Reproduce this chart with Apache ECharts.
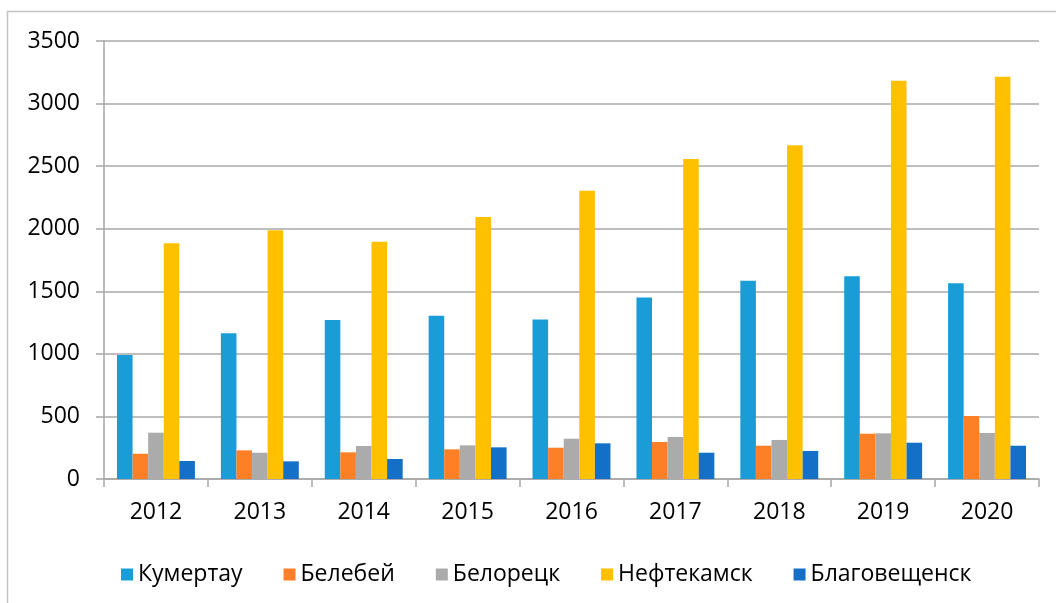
<!DOCTYPE html>
<html>
<head>
<meta charset="utf-8">
<script src="https://cdn.jsdelivr.net/npm/echarts@6/dist/echarts.min.js"></script>
<style>
    html, body { margin: 0; padding: 0; background: #fff; }
    #chart { width: 1056px; height: 603px; }
</style>
</head>
<body>
<div id="chart"></div>
<script>
// годы и значения по городам
var years = ['2012', '2013', '2014', '2015', '2016', '2017', '2018', '2019', '2020'];
var kumertau = [990, 1165, 1270, 1305, 1275, 1450, 1585, 1620, 1565];
var belebey = [202, 229, 213, 237, 250, 296, 266, 362, 503];
var beloretsk = [370, 210, 264, 269, 322, 336, 312, 365, 368];
var neftekamsk = [1883, 1987, 1896, 2093, 2304, 2557, 2666, 3183, 3215];
var blagoveshchensk = [144, 141, 160, 253, 285, 210, 224, 290, 266];
var yTicks = [0, 500, 1000, 1500, 2000, 2500, 3000, 3500];

var seriesNames = ['Кумертау', 'Белебей', 'Белорецк', 'Нефтекамск', 'Благовещенск'];
var seriesData = [kumertau, belebey, beloretsk, neftekamsk, blagoveshchensk];
var colors = ['#1a9dd7', '#fd7f26', '#ababab', '#ffc000', '#146fc6'];

var font = '"Open Sans", sans-serif';
var myChart = echarts.init(document.getElementById('chart'));

myChart.setOption({
    animation: false,
    color: colors,
    graphic: [{
        type: 'rect',
        shape: { x: 7.5, y: 11.5, width: 1200, height: 800 },
        style: { fill: 'none', stroke: '#c4c4c4', lineWidth: 1.5 },
        silent: true
    }],
    grid: { left: 104, right: 17, top: 41, bottom: 124 },
    legend: {
        left: 116,
        top: 558,
        itemWidth: 12,
        itemHeight: 12,
        itemGap: 41,
        icon: 'rect',
        textStyle: { fontFamily: font, fontSize: 23, color: '#000' },
        data: seriesNames
    },
    xAxis: {
        type: 'category',
        data: years,
        axisLine: { lineStyle: { color: '#a6a6a6', width: 1.5 } },
        axisTick: { show: true, length: 8, lineStyle: { color: '#a6a6a6', width: 1.5 } },
        axisLabel: { margin: 22, fontFamily: font, fontSize: 23, color: '#000' }
    },
    yAxis: {
        type: 'value',
        min: yTicks[0],
        max: yTicks[yTicks.length - 1],
        interval: 500,
        axisLine: { show: true, lineStyle: { color: '#a6a6a6', width: 1.5 } },
        axisTick: { show: true, length: 8, lineStyle: { color: '#a6a6a6', width: 1.5 } },
        axisLabel: {
            margin: 24, fontFamily: font, fontSize: 23, color: '#000',
            formatter: function (v) { return String(v); }
        },
        splitLine: { lineStyle: { color: '#a8a8a8', width: 1.5 } }
    },
    series: seriesNames.map(function (name, i) {
        return {
            name: name,
            type: 'bar',
            data: seriesData[i],
            barGap: '0%',
            barCategoryGap: '25%'
        };
    })
});
</script>
</body>
</html>
